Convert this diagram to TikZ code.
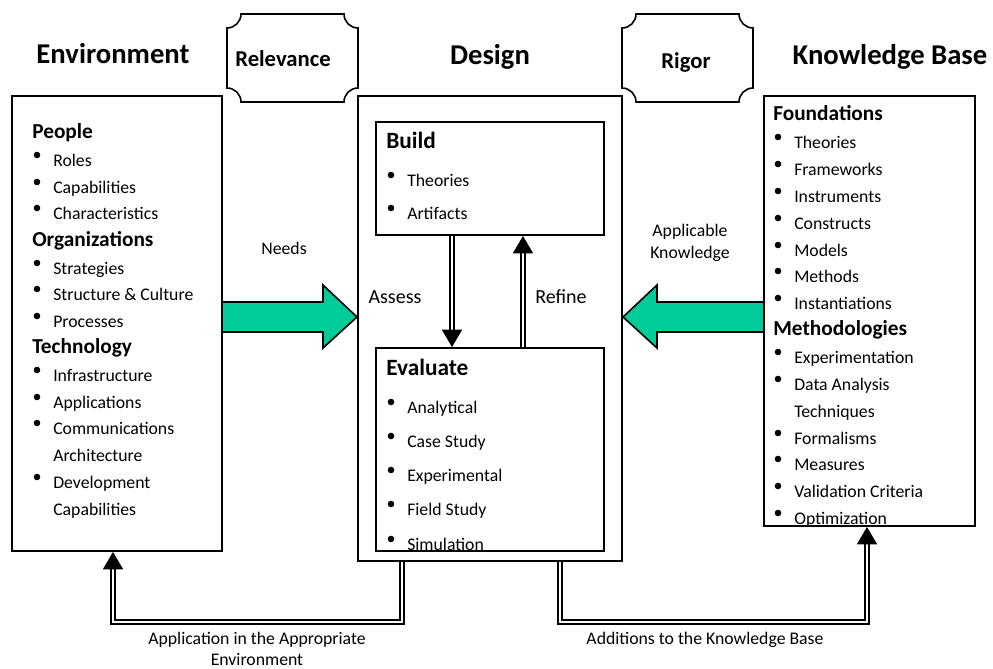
\documentclass[tikz,border=0pt]{standalone}
\usepackage{fontspec}
\setmainfont{Carlito}
\usetikzlibrary{arrows.meta,fit}
\definecolor{needgreen}{RGB}{0,204,153}
\tikzset{
  box/.style={draw, line width=1.4pt, inner sep=0pt},
  title/.style={font=\bfseries\fontsize{21.5}{24}\selectfont, text height=1em, text depth=0.1em, inner sep=0pt},
  tag/.style={font=\bfseries\fontsize{17}{20}\selectfont, text height=1em, text depth=0.1em, inner sep=0pt},
  sec/.style={anchor=west, font=\bfseries\fontsize{16}{19}\selectfont, text height=1em, text depth=0.1em, inner sep=0pt},
  head/.style={anchor=west, font=\bfseries\fontsize{17.5}{20}\selectfont, text height=1em, text depth=0.1em, inner sep=0pt},
  item/.style={anchor=west, font=\fontsize{13.3}{16}\selectfont, text height=1em, text depth=0.1em, inner sep=0pt},
  lbl/.style={align=center, font=\fontsize{13.3}{16.5}\selectfont, inner sep=0pt},
  dbl/.style={double, double distance=2pt, line width=0.9pt},
  tip/.style={-{Triangle[width=15pt,length=13pt]}},
  bigarrow/.style={fill=needgreen, draw, line width=1.2pt, line join=miter},
}
\begin{document}
\begin{tikzpicture}[x=0.75pt,y=-0.75pt]
  \useasboundingbox (0,0) rectangle (993,668);
  % titles
  \node[title] (envtitle) at (113,57) {Environment};
  \node[title] (destitle) at (490,58) {Design};
  \node[title] (kbtitle) at (890,58) {Knowledge Base};
  % relevance and rigor
  \foreach \x in {227,622}
    \draw[line width=1.2pt, shift={(\x,0)}] (14,14) -- (117,14) .. controls (117,21.7) and (123.3,28) .. (131,28)
      -- (131,88) .. controls (123.3,88) and (117,94.3) .. (117,102) -- (14,102)
      .. controls (14,94.3) and (7.7,88) .. (0,88) -- (0,28) .. controls (7.7,28) and (14,21.7) .. (14,14) -- cycle;
  \node[tag] (rel) at (283,60) {Relevance};
  \node[tag] (rig) at (686,62) {Rigor};
  % boxes
  \node[box, fit={(12,96) (222,551)}] (env) {};
  \node[box, fit={(358,96) (622,561)}] (design) {};
  \node[box, fit={(376,122) (604,235)}] (build) {};
  \node[box, fit={(376,348) (604,551)}] (eval) {};
  \node[box, fit={(764,96) (975,526)}] (kb) {};
  % environment
  \node[sec] (people) at (32,132) {People};
  \node[sec] (orgs) at (32,240) {Organizations};
  \node[sec] (tech) at (32,347) {Technology};
  \foreach \y/\t in {160/Roles, 187/Capabilities, 213/Characteristics, 268/Strategies,
      294/Structure \& Culture, 321/Processes, 375/Infrastructure, 402/Applications,
      428/Communications, 482/Development}
  {
    \fill (37,\y-5) circle (3.3);
    \node[item] (env-\y) at (53,\y) {\t};
  }
  \node[item] (env-455) at (53,455) {Architecture};
  \node[item] (env-509) at (53,509) {Capabilities};
  % build and evaluate
  \node[head] (buildhead) at (386,142) {Build};
  \node[head] (evalhead) at (386,369) {Evaluate};
  \foreach \y/\t in {180/Theories, 213/Artifacts, 407/Analytical, 441/Case Study,
      475/Experimental, 509/Field Study, 544/Simulation}
  {
    \fill (391,\y-5) circle (3.3);
    \node[item] (des-\y) at (407,\y) {\t};
  }
  % knowledge base
  \node[sec] (found) at (773,114) {Foundations};
  \node[sec] (meth) at (773,329) {Methodologies};
  \foreach \y/\t in {142/Theories, 169/Frameworks, 196/Instruments, 223/Constructs,
      250/Models, 276/Methods, 303/Instantiations, 357/Experimentation,
      384/Data Analysis, 438/Formalisms, 464/Measures, 491/Validation Criteria,
      518/Optimization}
  {
    \fill (778,\y-5) circle (3.3);
    \node[item] (kb-\y) at (794,\y) {\t};
  }
  \node[item] (kb-411) at (794,411) {Techniques};
  % green arrows
  \draw[bigarrow] (222,302) -- (323,302) -- (323,285) -- (357,317) -- (323,348) -- (323,332) -- (222,332) -- cycle;
  \draw[bigarrow] (764,302) -- (657,302) -- (657,285) -- (623,317) -- (657,348) -- (657,332) -- (764,332) -- cycle;
  \node[lbl] (needs) at (284,248) {Needs};
  \node[lbl] (appk) at (690,243) {Applicable\\Knowledge};
  % assess / refine
  \draw[dbl, tip] (452,0 |- build.south) -- (452,0 |- eval.north);
  \draw[dbl, tip] (523,0 |- eval.north) -- (523,0 |- build.south);
  \node[lbl, font=\fontsize{15}{18}\selectfont] (assess) at (395,297) {Assess};
  \node[lbl, font=\fontsize{15}{18}\selectfont] (refine) at (561,297) {Refine};
  % bottom connectors
  \draw[dbl, tip] (402,0 |- design.south) -- (402,622) -- (113,622) -- (113,0 |- env.south);
  \draw[dbl, tip] (560,0 |- design.south) -- (560,622) -- (867,622) -- (867,0 |- kb.south);
  \node[lbl, font=\fontsize{13.3}{15.75}\selectfont] (appl) at (257,649) {Application in the Appropriate\\Environment};
  \node[lbl] (addk) at (705,640) {Additions to the Knowledge Base};
\end{tikzpicture}
\end{document}
